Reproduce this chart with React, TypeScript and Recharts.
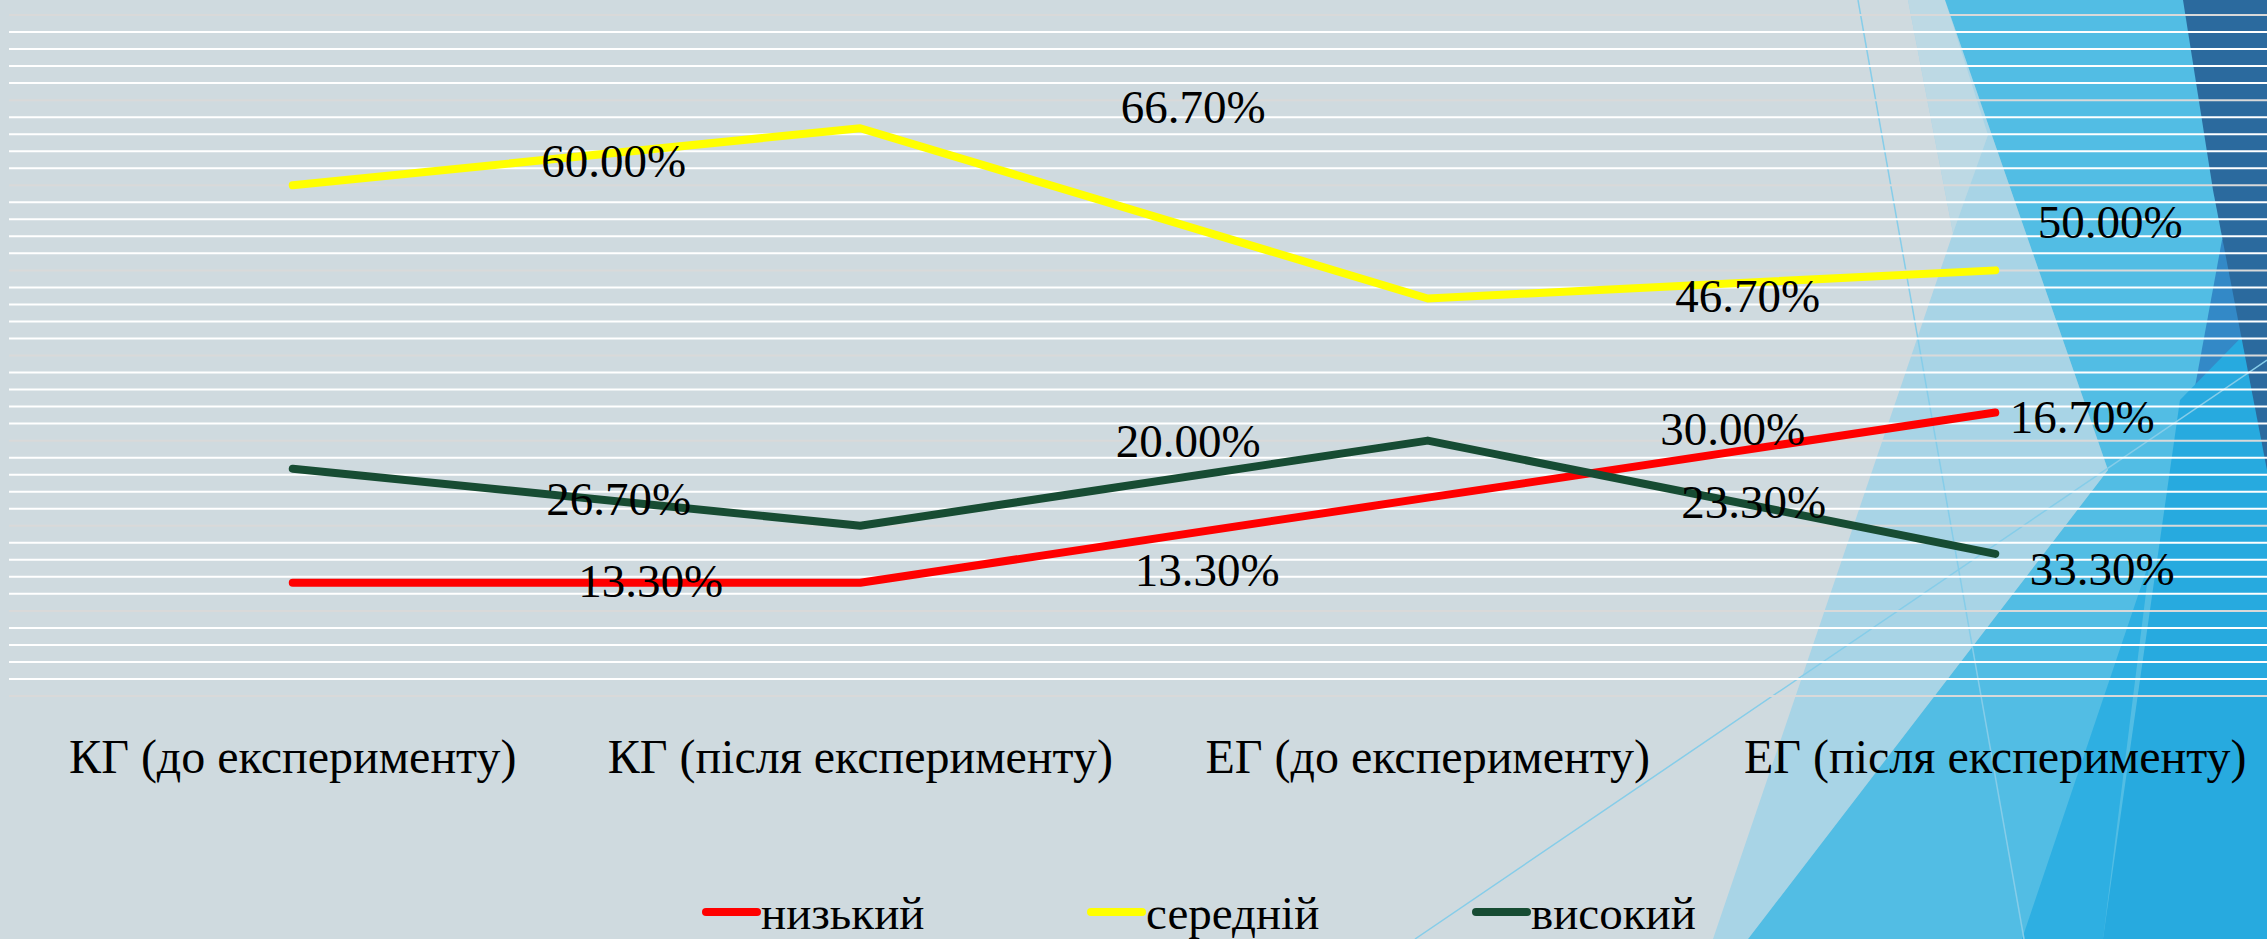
import React from 'react';
import { LineChart, Line, XAxis, YAxis, CartesianGrid, Legend, LabelList } from 'recharts';

// categories
const groups = [
  'КГ (до експерименту)',
  'КГ (після експерименту)',
  'ЕГ (до експерименту)',
  'ЕГ (після експерименту)',
];

// line values, %
const lowValues = [13.3, 13.3, 23.3, 33.3];
const midValues = [60, 66.7, 46.7, 50];
const highValues = [26.7, 20, 30, 16.7];

// data label texts as printed on the slide, %
const lowLabels = [13.3, 13.3, 30, 16.7];
const midLabels = [60, 66.7, 46.7, 50];
const highLabels = [26.7, 20, 23.3, 33.3];

// gridlines every 2%, the 10% ones are drawn in grey
const majorTicks = [0, 10, 20, 30, 40, 50, 60, 70, 80];
const minorTicks = [
  2, 4, 6, 8, 12, 14, 16, 18, 22, 24, 26, 28, 32, 34, 36, 38,
  42, 44, 46, 48, 52, 54, 56, 58, 62, 64, 66, 68, 72, 74, 76, 78,
];

const data = groups.map((group, i) => ({
  group,
  low: lowValues[i],
  mid: midValues[i],
  high: highValues[i],
  lowLabel: lowLabels[i],
  midLabel: midLabels[i],
  highLabel: highLabels[i],
}));

// labels were dragged around by hand in the original, offsets from each point
const labelNudges: Record<string, [number, number][]> = {
  low: [[358, -2], [347, -13], [305, -69], [87, 4]],
  mid: [[321, -24], [333, -21], [320, -2], [115, -48]],
  high: [[326, 30], [328, -85], [326, 61], [107, 15]],
};

const series = [
  { key: 'low', name: 'низький', color: '#ff0000' },
  { key: 'mid', name: 'середній', color: '#ffff00' },
  { key: 'high', name: 'високий', color: '#174c33' },
];

const FONT = '"Liberation Serif", "Times New Roman", serif';

// slide theme decoration on the right
const decor = [
  { fill: '#a8d4e6', pts: '1908,0 1945,0 2108,470 1748,939 1713,939 1953,233' },
  { fill: '#bdd9e4', pts: '1908,0 1945,0 1988,135 1953,233' },
  { fill: '#52bde4', pts: '1945,0 2267,0 2267,939 1748,939 2108,470' },
  { fill: '#3389c7', pts: '2222,240 2267,200 2267,560 2138,697' },
  { fill: '#2eafe2', pts: '2150,560 2103,939 2022,939' },
  { fill: '#27aadf', pts: '2180,400 2267,311 2267,939 2103,939' },
  { fill: '#2b6a9e', pts: '2183,0 2267,0 2267,470 2213,190' },
];

const Background = () => (
  <svg width={2267} height={939} style={{ position: 'absolute', left: 0, top: 0 }}>
    <rect width={2267} height={939} fill="#cfdadf" />
    {decor.map((d, i) => (
      <polygon key={i} points={d.pts} fill={d.fill} />
    ))}
    <line x1={1858} y1={0} x2={2024} y2={939} stroke="#86cde9" strokeWidth={1.5} />
    <line x1={1415} y1={939} x2={2267} y2={360} stroke="#86cde9" strokeWidth={1.5} />
  </svg>
);

const CategoryTick = (props: any) => {
  const { x, y, payload } = props;
  return (
    <text x={x} y={y + 77} textAnchor="middle" fontSize={48} fontFamily={FONT} fill="#000">
      {payload.value}
    </text>
  );
};

const makeLabel = (key: string) => (props: any) => {
  const { x, y, index, value } = props;
  const [dx, dy] = labelNudges[key][index];
  return (
    <text
      x={x + dx}
      y={y + dy}
      textAnchor="middle"
      dominantBaseline="central"
      fontSize={47}
      fontFamily={FONT}
      fill="#000"
    >
      {Number(value).toFixed(2)}%
    </text>
  );
};

const renderLegend = () => (
  <svg width={1160} height={60} style={{ overflow: 'visible', display: 'block' }}>
    {series.map((s, i) => (
      <g key={s.key} transform={`translate(${i * 385},0)`}>
        <line x1={4} y1={22} x2={55} y2={22} stroke={s.color} strokeWidth={8} strokeLinecap="round" />
        <text x={59} y={39} fontSize={47} fontFamily={FONT} fill="#000">
          {s.name}
        </text>
      </g>
    ))}
  </svg>
);

export default function App() {
  return (
    <div
      style={{
        position: 'absolute',
        left: 0,
        top: 0,
        width: 2267,
        height: 939,
        overflow: 'hidden',
      }}
    >
      <Background />
      <div style={{ position: 'absolute', left: 0, top: 0 }}>
        <LineChart
          width={2290}
          height={939}
          data={data}
          margin={{ top: 15, right: 11, left: 9, bottom: 0 }}
        >
          <YAxis hide domain={[0, 80]} type="number" width={0} interval={0} />
          <XAxis
            dataKey="group"
            scale="band"
            interval={0}
            axisLine={false}
            tickLine={false}
            tickSize={0}
            tickMargin={0}
            height={243}
            tick={<CategoryTick />}
          />
          <CartesianGrid vertical={false} horizontalValues={minorTicks} stroke="#ffffff" strokeWidth={2} />
          <CartesianGrid vertical={false} horizontalValues={majorTicks} stroke="#d9d9d9" strokeWidth={2} />
          <Legend
            content={renderLegend}
            wrapperStyle={{ position: 'absolute', left: 702, top: 890, width: 1160, height: 0, overflow: 'visible' }}
          />
          {series.map((s) => (
            <Line
              key={s.key}
              type="linear"
              dataKey={s.key}
              name={s.name}
              stroke={s.color}
              strokeWidth={8}
              strokeLinecap="round"
              strokeLinejoin="round"
              dot={false}
              activeDot={false}
              isAnimationActive={false}
            >
              <LabelList dataKey={`${s.key}Label`} content={makeLabel(s.key)} />
            </Line>
          ))}
        </LineChart>
      </div>
    </div>
  );
}
